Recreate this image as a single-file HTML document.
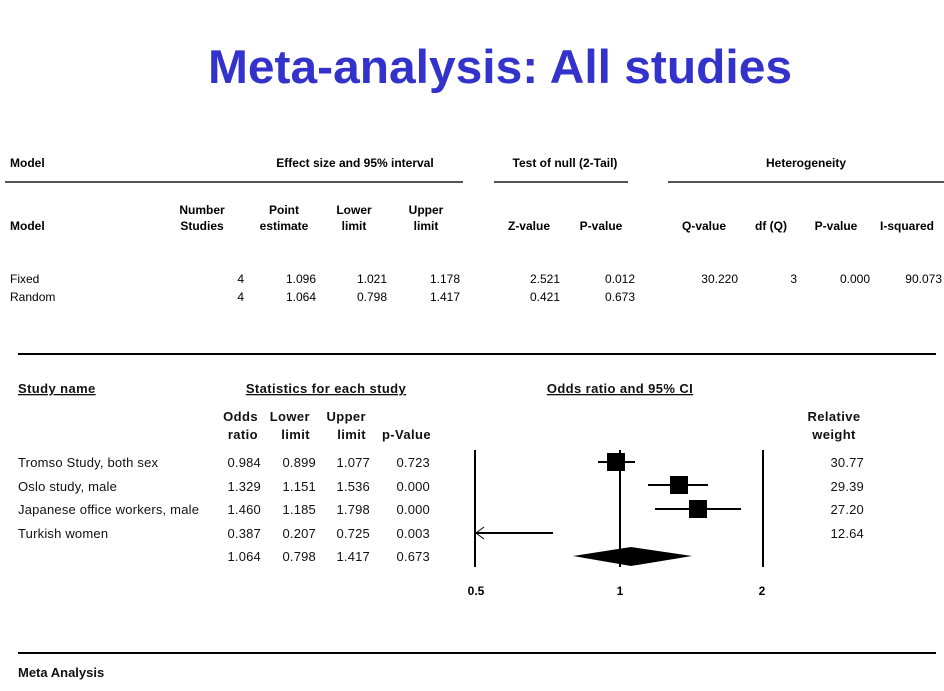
<!DOCTYPE html>
<html><head><style>
body{margin:0;background:#fff;}
svg{display:block;}
.t{font-family:"Liberation Sans",sans-serif;font-size:12px;fill:#000;}
.h{font-family:"Liberation Sans",sans-serif;font-size:12px;font-weight:bold;fill:#000;}
.b{font-family:"Liberation Sans",sans-serif;font-size:13px;fill:#111;letter-spacing:0.2px;}
.bh{font-family:"Liberation Sans",sans-serif;font-size:13px;font-weight:bold;fill:#111;letter-spacing:0.4px;}
</style></head><body>
<svg width="944" height="691" viewBox="0 0 944 691">
<text x="500" y="83" text-anchor="middle" style="font-family:'Liberation Sans',sans-serif;font-size:47px;font-weight:bold;fill:#3333cc" textLength="584" lengthAdjust="spacingAndGlyphs">Meta-analysis: All studies</text>

<text class="h" x="10" y="167">Model</text>
<text class="h" x="355" y="167" text-anchor="middle">Effect size and 95% interval</text>
<text class="h" x="565" y="167" text-anchor="middle">Test of null (2-Tail)</text>
<text class="h" x="806" y="167" text-anchor="middle">Heterogeneity</text>
<g fill="#555"><rect x="5" y="181" width="458" height="2"/><rect x="494" y="181" width="134" height="2"/><rect x="668" y="181" width="276" height="2"/></g>
<text class="h" x="10" y="230">Model</text>
<g class="h" text-anchor="middle">
<text x="202" y="214">Number</text><text x="202" y="230">Studies</text>
<text x="284" y="214">Point</text><text x="284" y="230">estimate</text>
<text x="354" y="214">Lower</text><text x="354" y="230">limit</text>
<text x="426" y="214">Upper</text><text x="426" y="230">limit</text>
<text x="529" y="230">Z-value</text><text x="601" y="230">P-value</text>
<text x="704" y="230">Q-value</text><text x="771" y="230">df (Q)</text>
<text x="836" y="230">P-value</text><text x="907" y="230">I-squared</text>
</g>
<text class="t" x="10" y="283">Fixed</text>
<text class="t" x="10" y="301">Random</text>
<g class="t" text-anchor="end">
<text x="244" y="283">4</text><text x="316" y="283">1.096</text><text x="387" y="283">1.021</text><text x="460" y="283">1.178</text><text x="560" y="283">2.521</text><text x="635" y="283">0.012</text><text x="738" y="283">30.220</text><text x="797" y="283">3</text><text x="870" y="283">0.000</text><text x="942" y="283">90.073</text>
<text x="244" y="301">4</text><text x="316" y="301">1.064</text><text x="387" y="301">0.798</text><text x="460" y="301">1.417</text><text x="560" y="301">0.421</text><text x="635" y="301">0.673</text>
</g>

<rect x="18" y="353" width="918" height="2" fill="#000"/>

<text class="bh" x="18" y="393" text-decoration="underline">Study name</text>
<text class="bh" x="326" y="393" text-anchor="middle" text-decoration="underline">Statistics for each study</text>
<text class="bh" x="620" y="393" text-anchor="middle" text-decoration="underline">Odds ratio and 95% CI</text>
<g class="bh" text-anchor="end">
<text x="258" y="421">Odds</text><text x="258" y="439">ratio</text>
<text x="310" y="421">Lower</text><text x="310" y="439">limit</text>
<text x="366" y="421">Upper</text><text x="366" y="439">limit</text>
<text x="431" y="439">p-Value</text>
</g>
<text class="bh" x="834" y="421" text-anchor="middle">Relative</text>
<text class="bh" x="834" y="439" text-anchor="middle">weight</text>
<g class="b">
<text x="18" y="467">Tromso Study, both sex</text>
<text x="18" y="491">Oslo study, male</text>
<text x="18" y="514">Japanese office workers, male</text>
<text x="18" y="538">Turkish women</text>
</g>
<g class="b" text-anchor="end">
<text x="261" y="467">0.984</text><text x="316" y="467">0.899</text><text x="370" y="467">1.077</text><text x="430" y="467">0.723</text><text x="864" y="467">30.77</text>
<text x="261" y="491">1.329</text><text x="316" y="491">1.151</text><text x="370" y="491">1.536</text><text x="430" y="491">0.000</text><text x="864" y="491">29.39</text>
<text x="261" y="514">1.460</text><text x="316" y="514">1.185</text><text x="370" y="514">1.798</text><text x="430" y="514">0.000</text><text x="864" y="514">27.20</text>
<text x="261" y="538">0.387</text><text x="316" y="538">0.207</text><text x="370" y="538">0.725</text><text x="430" y="538">0.003</text><text x="864" y="538">12.64</text>
<text x="261" y="561">1.064</text><text x="316" y="561">0.798</text><text x="370" y="561">1.417</text><text x="430" y="561">0.673</text>
</g>

<g stroke="#000" stroke-width="2">
<line x1="475" y1="450" x2="475" y2="567"/>
<line x1="620" y1="450" x2="620" y2="567"/>
<line x1="763" y1="450" x2="763" y2="567"/>
<line x1="598" y1="462" x2="635" y2="462"/>
<line x1="648" y1="485" x2="708" y2="485"/>
<line x1="655" y1="509" x2="741" y2="509"/>
<line x1="476" y1="533" x2="553" y2="533"/>
</g>
<polyline points="484,527 476,533 484,539" fill="none" stroke="#000" stroke-width="1"/>
<g fill="#000">
<rect x="607" y="453" width="18" height="18"/>
<rect x="670" y="476" width="18" height="18"/>
<rect x="689" y="500" width="18" height="18"/>
<polygon points="573,556 631,547 692,556 631,566"/>
</g>
<g class="h" text-anchor="middle">
<text x="476" y="595">0.5</text><text x="620" y="595">1</text><text x="762" y="595">2</text>
</g>

<rect x="18" y="652" width="918" height="2" fill="#000"/>
<text class="bh" x="18" y="677" style="letter-spacing:0">Meta Analysis</text>
</svg>
</body></html>
